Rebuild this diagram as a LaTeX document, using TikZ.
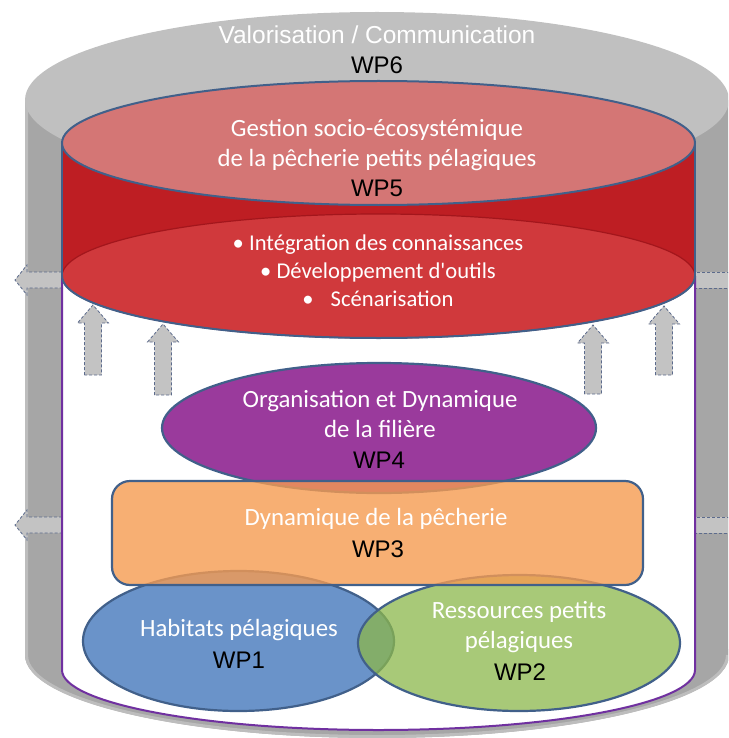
\documentclass[tikz,border=0pt]{standalone}
\usepackage{fontspec}
\setmainfont{Carlito}
\newfontfamily\arialfont{Liberation Sans}
\usetikzlibrary{shapes.geometric}
\usetikzlibrary{calc}

\definecolor{topgray}{HTML}{C0C0C0}
\definecolor{sidegray}{HTML}{A6A6A6}
\definecolor{rimgray}{HTML}{BDBDBD}
\definecolor{arrowgray}{HTML}{C3C3C3}
\definecolor{arrowline}{HTML}{5C6B8C}
\definecolor{edgeblue}{HTML}{41608A}
\definecolor{innerpurple}{HTML}{7030A0}
\definecolor{redbody}{HTML}{BE1E23}
\definecolor{redface}{HTML}{D0393C}
\definecolor{redtop}{HTML}{D47675}
\definecolor{rededge}{HTML}{A3161C}
\definecolor{wppurple}{HTML}{9A3A9C}
\definecolor{wporange}{HTML}{F59B51}
\definecolor{wpblue}{HTML}{6A93C9}
\definecolor{wpgreen}{HTML}{8CB74B}

\begin{document}
\begin{tikzpicture}[x=1pt,y=-1pt,
  face/.style={ellipse,inner sep=0pt,outer sep=0pt},
  wptext/.style={text=white,align=center,font=\fontsize{24.8}{30}\selectfont},
  wplabel/.style={text=black,font=\arialfont\fontsize{24}{28}\selectfont},
  bullettext/.style={text=white,font=\fontsize{22.6}{26}\selectfont},
  grayarrow/.style={fill=arrowgray,draw=arrowline,densely dashed,line width=0.8pt}]
  \useasboundingbox (0,0) rectangle (728,738);
  \clip (0,0) rectangle (728,738);
  % outer cylinder WP6
  \fill[sidegray] (25,100) rectangle (740,655);
  \fill[sidegray] (377,655) ellipse [x radius=352pt,y radius=83pt];
  \draw[rimgray,line width=3pt] (26.5,100) -- (26.5,655) arc[start angle=180,end angle=360,x radius=350.5pt,y radius=81.5pt];
  \node[face,fill=topgray,minimum width=704pt,minimum height=176pt] (top6) at (377,100) {};
  % side arrows
  \foreach \cy in {280,525}{
    \draw[grayarrow] (62,\cy-8) -- (27,\cy-8) -- (27,\cy-15) -- (15,\cy) -- (27,\cy+15) -- (27,\cy+8) -- (62,\cy+8);
    \draw[grayarrow] (740,\cy-8) -- (695,\cy-8) -- (695,\cy+8) -- (740,\cy+8);
  }
  % inner white cylinder
  \fill[white] (62,143) rectangle (695,670);
  \fill[white] (378.5,670) ellipse [x radius=316.5pt,y radius=60pt];
  \draw[innerpurple,line width=2pt] (62,276) -- (62,670) arc[start angle=180,end angle=360,x radius=316.5pt,y radius=60pt] -- (695,276);
  % up arrows
  \foreach \cx/\t/\b in {93/305/375,163/324/395,593/325/394,664/306/375}
    \draw[grayarrow] (\cx-8.5,\b) -- (\cx-8.5,\t+18) -- (\cx-15.5,\t+18) -- (\cx,\t) -- (\cx+15.5,\t+18) -- (\cx+8.5,\t+18) -- (\cx+8.5,\b) -- cycle;
  % red cylinder WP5
  \fill[redbody] (62,143) rectangle (695,276);
  \node[face,fill=redface,draw=rededge,line width=1.2pt,minimum width=633pt,minimum height=124pt] (bot5) at (378.5,276) {};
  \draw[edgeblue,line width=2pt] (bot5.west) arc[start angle=180,end angle=360,x radius=316.5pt,y radius=62pt];
  \node[face,fill=redtop,draw=edgeblue,line width=2pt,minimum width=633pt,minimum height=124pt] (top5) at (378.5,143) {};
  \draw[edgeblue,line width=2pt] (top5.west) -- (bot5.west);
  \draw[edgeblue,line width=2pt] (top5.east) -- (bot5.east);
  % WP1, WP2
  \node[face,fill=wpblue,draw=edgeblue,line width=2.2pt,minimum width=311pt,minimum height=140pt] (wp1) at (238.5,641) {};
  \node[face,fill=wpgreen,fill opacity=0.75,draw=edgeblue,line width=2.2pt,minimum width=322pt,minimum height=136pt] (wp2) at (519,643) {};
  % WP4, WP3
  \node[face,fill=wppurple,draw=edgeblue,line width=2.2pt,minimum width=434pt,minimum height=130pt] (wp4) at (379,428) {};
  \node[rectangle,rounded corners=18pt,inner sep=0pt,fill=wporange,fill opacity=0.8,draw=edgeblue,line width=2.2pt,minimum width=531pt,minimum height=104pt] (wp3) at (377.5,533) {};
  % texts
  \node[text=white,font=\arialfont\fontsize{24.5}{28}\selectfont] (t6) at (377,35) {Valorisation / Communication};
  \node[wplabel] (l6) at (377,65) {WP6};
  \node[wptext] (t5) at (377,145) {Gestion socio-écosystémique\\de la pêcherie petits pélagiques};
  \node[wplabel] (l5) at (377,188) {WP5};
  \node[bullettext] (b1) at (378,245) {• Intégration des connaissances};
  \node[bullettext] (b2) at (378,272) {• Développement d\textquotesingle outils};
  \node[bullettext] (b3) at (378,299) {•\hspace{17pt}Scénarisation};
  \node[wptext] (t4) at (380,414) {Organisation et Dynamique\\de la filière};
  \node[wplabel] (l4) at (379,460) {WP4};
  \node[wptext] (t3) at (376,519) {Dynamique de la pêcherie};
  \node[wplabel] (l3) at (378,549) {WP3};
  \node[wptext] (t1) at (239,630) {Habitats pélagiques};
  \node[wplabel] (l1) at (239,660) {WP1};
  \node[wptext] (t2) at (519,627) {Ressources petits\\pélagiques};
  \node[wplabel] (l2) at (520,672) {WP2};
\end{tikzpicture}
\end{document}
